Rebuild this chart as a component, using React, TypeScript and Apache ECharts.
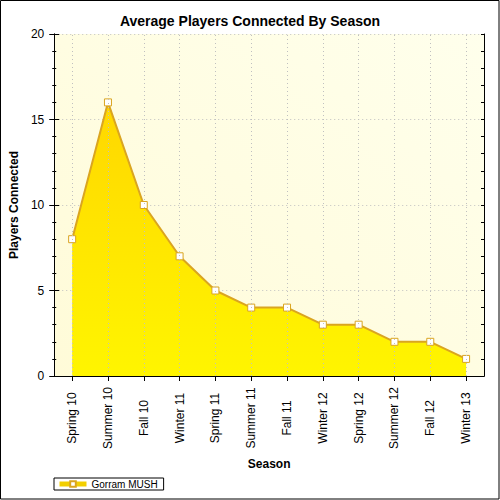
import React, { useEffect, useRef } from "react";
import * as echarts from "echarts";

const categories = [
  "Spring 10", "Summer 10", "Fall 10", "Winter 11", "Spring 11", "Summer 11",
  "Fall 11", "Winter 12", "Spring 12", "Summer 12", "Fall 12", "Winter 13",
];
const players = [8, 16, 10, 7, 5, 4, 4, 3, 3, 2, 2, 1];
const seriesName = "Gorram MUSH";
const titleText = "Average Players Connected By Season";
const yName = "Players Connected";
const xName = "Season";

const FONT = "'Liberation Sans', Arial, sans-serif";

export default function App() {
  const ref = useRef<HTMLDivElement>(null);
  useEffect(() => {
    if (!ref.current) return;
    const chart = echarts.init(ref.current, null, { renderer: "svg" });
    const yBase = {
      type: "value",
      min: 0,
      max: 20,
      interval: 5,
      axisLine: { show: true, lineStyle: { color: "#000", width: 1 } },
    };
    const gridLine = { type: [1, 3], color: "#C0C0C0", width: 1 };
    chart.setOption({
      animation: false,
      backgroundColor: "#fff",
      textStyle: { fontFamily: FONT, color: "#000" },
      title: {
        text: titleText,
        left: "center",
        top: 9,
        textStyle: { fontFamily: FONT, fontSize: 14, fontWeight: "bold", color: "#000" },
      },
      legend: {
        data: [seriesName],
        left: 54,
        top: 478,
        orient: "horizontal",
        backgroundColor: "#fff",
        borderColor: "#000",
        borderWidth: 1,
        borderRadius: 0,
        padding: [1, 6, 1, 3],
        itemWidth: 27,
        itemHeight: 7,
        textStyle: { fontFamily: FONT, fontSize: 10, color: "#000" },
        lineStyle: { width: 5, color: "#F2CF00" },
      },
      grid: {
        left: 54,
        right: 16,
        top: 34,
        bottom: 124,
        show: true,
        borderWidth: 0,
        backgroundColor: new echarts.graphic.LinearGradient(0, 1, 1, 0, [
          { offset: 0, color: "#FFFBD8" },
          { offset: 1, color: "#FFFFEC" },
        ]),
      },
      xAxis: [
        {
          type: "category",
          data: categories,
          position: "bottom",
          boundaryGap: true,
          axisLine: { show: true, lineStyle: { color: "#000", width: 1 } },
          axisTick: { show: true, alignWithLabel: true, length: 5, interval: 0, lineStyle: { color: "#000" } },
          axisLabel: {
            interval: 0,
            rotate: 90,
            align: "center",
            verticalAlign: "middle",
            margin: 42,
            fontSize: 12,
            fontFamily: FONT,
            color: "#000",
          },
          splitLine: { show: false },
          name: xName,
          nameLocation: "middle",
          nameGap: 82,
          nameTextStyle: { fontFamily: FONT, fontSize: 12, fontWeight: "bold", color: "#000" },
        },
        {
          type: "category",
          data: categories,
          position: "top",
          boundaryGap: true,
          axisLine: { show: true, lineStyle: { color: "#000", width: 1 } },
          axisTick: { show: true, alignWithLabel: true, inside: true, length: 4, interval: 0, lineStyle: { color: "#000" } },
          axisLabel: { show: false },
          splitLine: { show: false },
        },
      ],
      yAxis: [
        {
          ...yBase,
          position: "left",
          axisTick: { show: true, length: 5, lineStyle: { color: "#000" } },
          minorTick: { show: true, splitNumber: 5, length: 2, lineStyle: { color: "#000" } },
          axisLabel: { margin: 10, fontSize: 12, fontFamily: FONT, color: "#000" },
          splitLine: { show: true, lineStyle: gridLine },
          name: yName,
          nameLocation: "middle",
          nameGap: 34,
          nameTextStyle: { fontFamily: FONT, fontSize: 12, fontWeight: "bold", color: "#000" },
        },
        {
          ...yBase,
          position: "left",
          axisTick: { show: true, inside: true, length: 5, lineStyle: { color: "#000" } },
          minorTick: { show: true, splitNumber: 5, length: 2, lineStyle: { color: "#000" } },
          axisLabel: { show: false },
          splitLine: { show: false },
        },
        {
          ...yBase,
          position: "right",
          axisTick: { show: true, inside: true, length: 3, lineStyle: { color: "#000" } },
          minorTick: { show: true, splitNumber: 5, length: 3, lineStyle: { color: "#000" } },
          axisLabel: { show: false },
          splitLine: { show: false },
        },
      ],
      graphic: [
        {
          type: "rect",
          shape: { x: 0.5, y: 0.5, width: 498.5, height: 498.5 },
          style: { fill: "none", stroke: "#000", lineWidth: 1 },
          z: 100,
          silent: true,
        },
      ],
      series: [
        {
          name: "gridlines",
          type: "line",
          data: [],
          xAxisIndex: 0,
          yAxisIndex: 0,
          z: 1,
          silent: true,
          markLine: {
            silent: true,
            symbol: ["none", "none"],
            label: { show: false },
            emphasis: { disabled: true },
            lineStyle: gridLine,
            data: categories.map((c) => ({ xAxis: c })),
          },
        },
        {
          name: seriesName,
          type: "line",
          data: players,
          xAxisIndex: 0,
          yAxisIndex: 0,
          z: 3,
          symbol: "rect",
          symbolSize: 7,
          showAllSymbol: true,
          itemStyle: { color: "#FFFFFF", borderColor: "#DAA520", borderWidth: 1 },
          lineStyle: { color: "#DAA520", width: 2 },
          areaStyle: {
            opacity: 1,
            color: new echarts.graphic.LinearGradient(0, 0, 0, 1, [
              { offset: 0, color: "#FFD700" },
              { offset: 1, color: "#FFF500" },
            ]),
          },
        },
      ],
    });
    return () => chart.dispose();
  }, []);
  return (
    <div
      ref={ref}
      style={{ position: "absolute", left: 0, top: 0, width: 500, height: 500 }}
    />
  );
}
